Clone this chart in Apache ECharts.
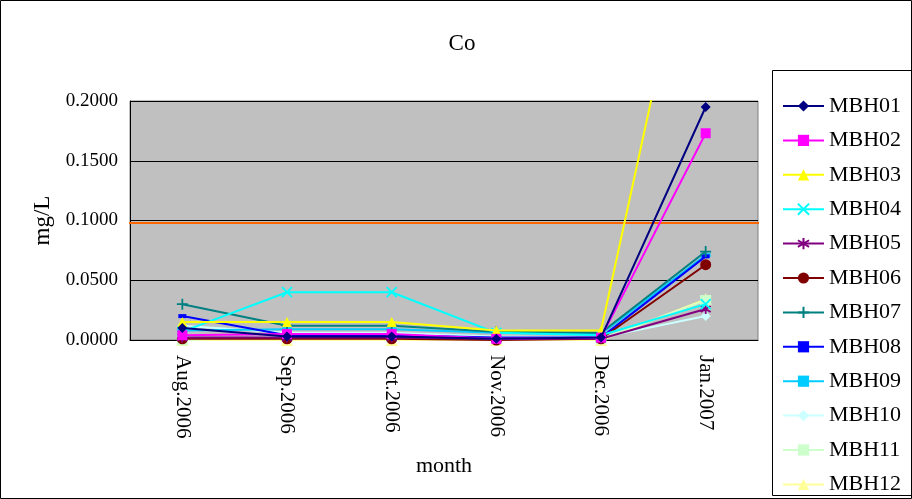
<!DOCTYPE html>
<html><head><meta charset="utf-8">
<script src="https://cdn.jsdelivr.net/npm/echarts@6/dist/echarts.min.js"></script>
<style>html,body{margin:0;padding:0;background:#fff}#c{width:912px;height:499px}</style>
</head><body><div id="c"></div>
<script>
const months = ['Aug.2006','Sep.2006','Oct.2006','Nov.2006','Dec.2006','Jan.2007'];
const MBH01 = [0.010, 0.003, 0.003, 0.001, 0.002, 0.195];
const MBH02 = [0.004, 0.005, 0.005, 0.001, 0.002, 0.173];
const MBH03 = [0.015, 0.015, 0.015, 0.008, 0.008, 0.410];
const MBH04 = [0.007, 0.040, 0.040, 0.006, 0.004, 0.030];
const MBH05 = [0.002, 0.002, 0.002, 0.001, 0.001, 0.026];
const MBH06 = [0.001, 0.001, 0.001, 0.000, 0.001, 0.063];
const MBH07 = [0.030, 0.012, 0.012, 0.007, 0.006, 0.074];
const MBH08 = [0.020, 0.004, 0.004, 0.002, 0.002, 0.070];
const MBH09 = [0.008, 0.009, 0.009, 0.006, 0.005, 0.071];
const MBH10 = [0.012, 0.006, 0.006, 0.003, 0.002, 0.020];
const MBH11 = [0.000, 0.003, 0.003, 0.001, 0.001, 0.033];
const MBH12 = [0.000, 0.000, 0.000, 0.000, 0.000, 0.034];
const limitValue = 0.098;

const names = ['MBH01','MBH02','MBH03','MBH04','MBH05','MBH06','MBH07','MBH08','MBH09','MBH10','MBH11','MBH12'];
const values = [MBH01,MBH02,MBH03,MBH04,MBH05,MBH06,MBH07,MBH08,MBH09,MBH10,MBH11,MBH12];
const colors = ['#000080','#FF00FF','#FFFF00','#00FFFF','#800080','#800000','#008080','#0000FF','#00CCFF','#CCFFFF','#CCFFCC','#FFFF99'];
const X = 'path://M0,0L10,10M10,0L0,10';
const PLUS = 'path://M5,0L5,10M0,5L10,5';
const AST = 'path://M5,0L5,10M0,2L10,8M0,8L10,2';
const symbols = ['diamond','rect','triangle',X,AST,'circle',PLUS,'rect','rect','diamond','rect','triangle'];
const sizes = [10,10,10,10,10,11,11,[8,4],[10,4],10,11,12];
const stroked = [false,false,false,true,true,false,true,false,false,false,false,false];
const font = '"Liberation Serif","Times New Roman",serif';

const series = names.map((n,i)=>({
  name:n, type:'line', data:values[i], symbol:symbols[i], symbolSize:sizes[i],
  clip:true, z: 10-i*0.1,
  lineStyle:{color:colors[i], width:2},
  itemStyle: stroked[i] ? {color:colors[i], borderColor:colors[i], borderWidth:1.8} : {color:colors[i], borderWidth:0},
  emphasis:{disabled:true}, animation:false
}));
series.push({
  name:'limit', type:'line', xAxisIndex:1, data:[[-0.008,limitValue],[1.006,limitValue]],
  symbol:'none', clip:false, lineStyle:{color:'#FF6600', width:2}, z:5, animation:false, silent:true
});

const chart = echarts.init(document.getElementById('c'));
chart.setOption({
  animation:false,
  backgroundColor:'#fff',
  title:{text:'Co', left:457, top:27, textAlign:'center',
    textStyle:{fontFamily:font, fontSize:23, fontWeight:'normal', color:'#000'}},
  grid:{left:130, right:154, top:101, bottom:159, show:true, backgroundColor:'#C0C0C0', borderColor:'#808080', borderWidth:1},
  legend:{orient:'vertical', left:777, top:95, padding:[0,5,0,5], itemWidth:41, itemHeight:14, itemGap:12.4,
    data:names, textStyle:{fontFamily:font, fontSize:22, color:'#000'}},
  xAxis:[{
    type:'category', data:months, boundaryGap:true,
    name:'month', nameLocation:'middle', nameGap:115,
    nameTextStyle:{fontFamily:font, fontSize:22, color:'#000'},
    axisLine:{lineStyle:{color:'#000', width:1}},
    axisTick:{inside:true, length:6, lineStyle:{color:'#000'}},
    axisLabel:{rotate:-90, margin:15, fontFamily:font, fontSize:21, color:'#000'},
    splitLine:{show:false}
  },{
    type:'value', min:0, max:1, show:false
  }],
  yAxis:{
    type:'value', min:0, max:0.2, interval:0.05,
    name:'mg/L', nameLocation:'middle', nameGap:73, nameRotate:90,
    nameTextStyle:{fontFamily:font, fontSize:23, color:'#000'},
    axisLine:{show:true, lineStyle:{color:'#000'}},
    axisTick:{show:false},
    axisLabel:{margin:12, fontFamily:font, fontSize:19, color:'#000', formatter:v=>v.toFixed(4)},
    splitLine:{show:true, lineStyle:{color:'#000', width:1}}
  },
  graphic:[
    {type:'rect', shape:{x:0.5,y:0.5,width:911,height:498}, style:{fill:'none', stroke:'#000', lineWidth:1}, silent:true},
    {type:'rect', shape:{x:772.5,y:70.5,width:145,height:425}, style:{fill:'none', stroke:'#000', lineWidth:1}, silent:true}
  ],
  series:series
});
</script></body></html>
